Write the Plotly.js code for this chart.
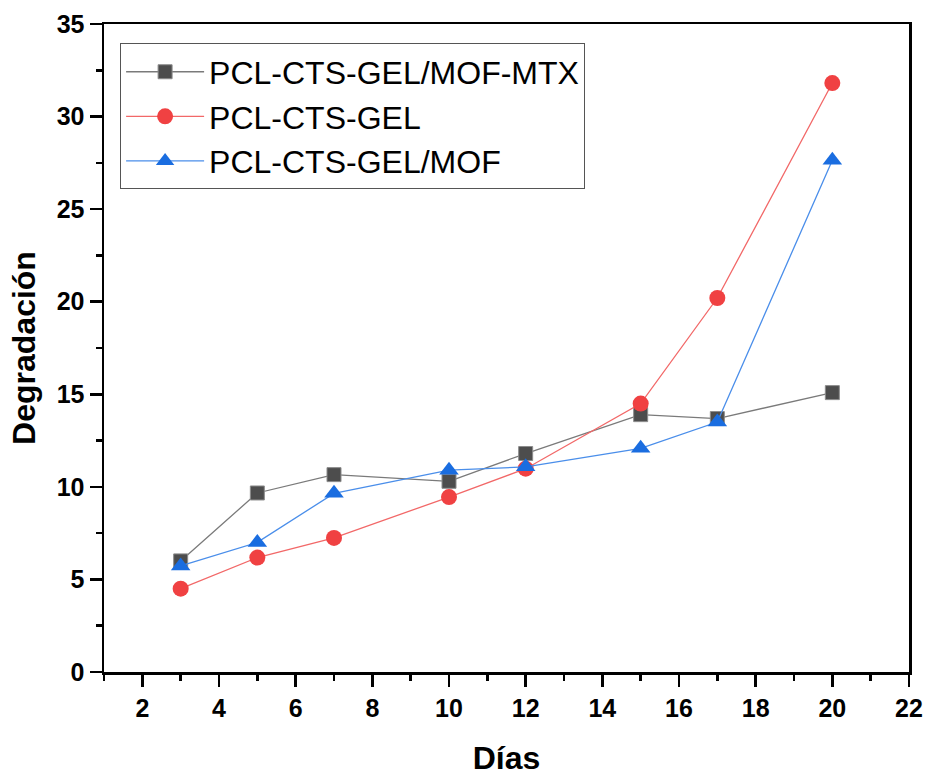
<!DOCTYPE html>
<html>
<head>
<meta charset="utf-8">
<script src="https://cdn.plot.ly/plotly-3.0.1.min.js"></script>
<style>
  html, body { margin: 0; padding: 0; background: #fff; }
  #chart { width: 930px; height: 776px; }
</style>
</head>
<body>
<div id="chart"></div>
<script>
// Degradation over time for the three scaffold formulations
const dias = [3, 5, 7, 10, 12, 15, 17, 20];
const mofMtx = [6.0, 9.67, 10.66, 10.3, 11.8, 13.9, 13.69, 15.09];
const ctsGel = [4.5, 6.18, 7.24, 9.45, 10.98, 14.5, 20.2, 31.81];
const ctsGelMof = [5.73, 7.0, 9.65, 10.9, 11.08, 12.08, 13.5, 27.64];
const seriesNames = ['PCL-CTS-GEL/MOF-MTX', 'PCL-CTS-GEL', 'PCL-CTS-GEL/MOF'];
const xTicks = [2, 4, 6, 8, 10, 12, 14, 16, 18, 20, 22];
const yTicks = [0, 5, 10, 15, 20, 25, 30, 35];

const FONT = 'Liberation Sans, Arial, Helvetica, sans-serif';

const traces = [
  {
    x: dias, y: mofMtx, name: seriesNames[0], type: 'scatter', mode: 'lines+markers',
    line: { color: '#7a7a7a', width: 1.3 },
    marker: { symbol: 'square', size: 14, color: '#4d4d4d', line: { color: '#8c8c8c', width: 1 } }
  },
  {
    x: dias, y: ctsGel, name: seriesNames[1], type: 'scatter', mode: 'lines+markers',
    line: { color: '#f26868', width: 1.3 },
    marker: { symbol: 'circle', size: 16, color: '#f04142', line: { width: 0 } }
  },
  {
    x: dias, y: ctsGelMof, name: seriesNames[2], type: 'scatter', mode: 'lines+markers',
    line: { color: '#4a8eea', width: 1.3 },
    marker: { symbol: 'triangle-up', size: 17, color: '#1a6de0', line: { width: 0 } }
  }
];

const axisCommon = {
  showline: true, mirror: true, linecolor: '#000', linewidth: 2.5,
  showgrid: false, zeroline: false,
  ticks: 'outside', ticklen: 12, tickwidth: 2.5, tickcolor: '#000',
  tickfont: { family: FONT, size: 25, weight: 'bold', color: '#000' }
};

const layout = {
  width: 930, height: 776,
  paper_bgcolor: '#fff', plot_bgcolor: '#fff',
  margin: { l: 104, r: 21, t: 24, b: 104 },
  showlegend: true,
  xaxis: Object.assign({}, axisCommon, {
    range: [1, 22], tickvals: xTicks, ticktext: xTicks.map(String),
    minor: { ticks: 'outside', ticklen: 6, tickwidth: 2.5, tickcolor: '#000', dtick: 1, tick0: 1 },
    title: { text: 'Días', font: { family: FONT, size: 32, weight: 'bold', color: '#000' }, standoff: 32 }
  }),
  yaxis: Object.assign({}, axisCommon, {
    range: [0, 35], tickvals: yTicks, ticktext: yTicks.map(String),
    minor: { ticks: 'outside', ticklen: 6, tickwidth: 2.5, tickcolor: '#000', dtick: 2.5, tick0: 0 },
    title: { text: 'Degradación', font: { family: FONT, size: 32, weight: 'bold', color: '#000' }, standoff: 12 }
  }),
  legend: {
    x: 0.02, y: 0.97, xanchor: 'left', yanchor: 'top',
    bgcolor: '#fff', bordercolor: '#555', borderwidth: 1,
    font: { family: FONT, size: 32, color: '#000' },
    itemwidth: 78, tracegroupgap: 0
  }
};

Plotly.newPlot('chart', traces, layout, { displayModeBar: false, staticPlot: true });
</script>
</body>
</html>
